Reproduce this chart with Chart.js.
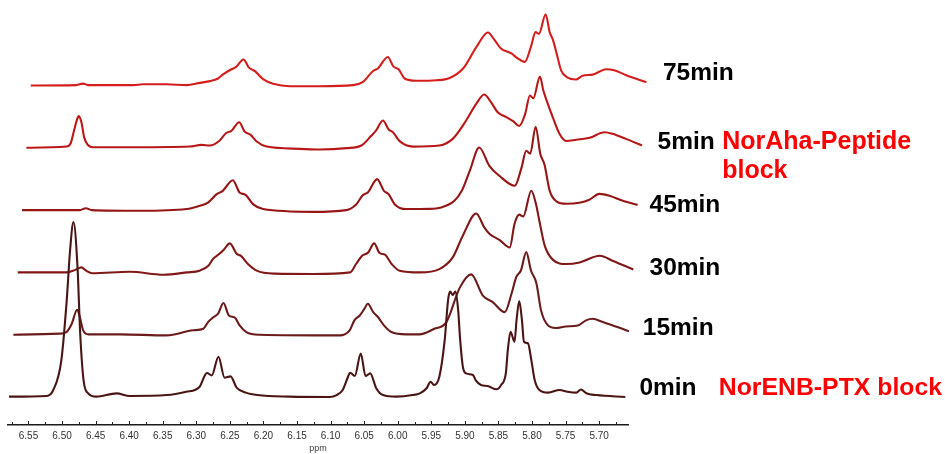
<!DOCTYPE html>
<html>
<head>
<meta charset="utf-8">
<title>NMR stack</title>
<script src="https://cdn.jsdelivr.net/npm/chart.js@4"></script>
<style>
  html, body { margin: 0; padding: 0; background: #fff; }
  #wrap { width: 945px; height: 454px; }
</style>
</head>
<body>
<div id="wrap"><canvas id="nmr" width="945" height="454"></canvas></div>
<script>
// stacked 1H NMR spectra, listed bottom to top
const traceNames = ['0min', '15min', '30min', '45min', '5min', '75min'];
const traceColors = ['#4a1515', '#6a1c1c', '#801818', '#961515', '#b81818', '#d41e1e'];
const tickLabels = ['6.55', '6.50', '6.45', '6.40', '6.35', '6.30', '6.25', '6.20', '6.15',
  '6.10', '6.05', '6.00', '5.95', '5.90', '5.85', '5.80', '5.75', '5.70'];

// chemical shift (ppm) / relative intensity per trace
const ppm0min = [6.579, 6.523, 6.513, 6.501, 6.493, 6.488, 6.483, 6.477, 6.473, 6.468, 6.461, 6.449,
  6.419, 6.399, 6.344, 6.315, 6.295, 6.287, 6.284, 6.277, 6.267, 6.258, 6.249, 6.240, 6.226, 6.209,
  6.161, 6.101, 6.091, 6.082, 6.074, 6.071, 6.064, 6.055, 6.048, 6.041, 6.032, 6.022, 6.002, 5.978,
  5.967, 5.957, 5.951, 5.946, 5.938, 5.930, 5.925, 5.922, 5.918, 5.914, 5.910, 5.907, 5.903, 5.898,
  5.888, 5.884, 5.876, 5.866, 5.853, 5.846, 5.839, 5.836, 5.832, 5.826, 5.823, 5.819, 5.815, 5.812,
  5.806, 5.801, 5.796, 5.789, 5.776, 5.759, 5.747, 5.734, 5.727, 5.719, 5.704, 5.661];
const int0min = [0.2, 0.6, 4.0, 21.1, 55.4, 84, 100, 74.5, 36.6, 9.7, 2.1, 0.2,
  2.1, 0.6, 1.1, 3.0, 5.9, 12.6, 13.7, 12.3, 23.0, 11.1, 11.8, 5.4, 2.5, 1.1,
  0.2, 0, 1.1, 4.0, 11.6, 13.9, 12.0, 24.9, 12.0, 13.5, 5.0, 1.1, 0.2, 1.1,
  2.1, 5.0, 8.7, 6.9, 11.6, 32.6, 55.4, 60.2, 58.3, 60.2, 49.7, 32.6, 17.3, 13.5,
  12.6, 9.7, 6.9, 6.3, 4.4, 6.9, 13.5, 26.9, 37.3, 31.6, 44, 54.9, 44, 31.6,
  30.7, 21.1, 9.7, 4.0, 2.5, 4.0, 3.0, 2.5, 4.3, 2.1, 1.1, 0];

const ppm15min = [6.579, 6.510, 6.500, 6.492, 6.484, 6.480, 6.475, 6.467, 6.420, 6.351, 6.311, 6.296,
  6.289, 6.282, 6.274, 6.266, 6.258, 6.249, 6.242, 6.232, 6.212, 6.093, 6.078, 6.071, 6.063, 6.056,
  6.051, 6.043, 6.036, 6.027, 6.016, 5.994, 5.974, 5.952, 5.934, 5.914, 5.897, 5.880, 5.865, 5.847,
  5.837, 5.830, 5.823, 5.815, 5.808, 5.800, 5.793, 5.784, 5.771, 5.756, 5.738, 5.726, 5.716, 5.701,
  5.686, 5.662];
const int15min = [0, 0.6, 1.5, 6.3, 14.3, 10.1, 2.5, 0.2, 0.2, -0.4, 2.5, 3.4,
  7.2, 9.7, 12, 18.1, 11, 9.7, 5.3, 1.5, 0, -0.4, 2.5, 8.2, 11, 14.9,
  17.7, 12.9, 10.1, 5.3, 1.5, 0.2, 0.2, 3.4, 7.2, 26.9, 34.5, 22.5, 18.6, 12.9,
  23.4, 32.9, 36.7, 47.2, 36.7, 29.6, 13.9, 5.9, 3.8, 4.7, 5.3, 8.2, 9.1, 7.2,
  5.3, 2.0];

const ppm30min = [6.579, 6.506, 6.494, 6.484, 6.477, 6.468, 6.412, 6.362, 6.327, 6.308, 6.295, 6.288,
  6.279, 6.272, 6.263, 6.253, 6.246, 6.236, 6.223, 6.196, 6.139, 6.084, 6.075, 6.066, 6.057, 6.048,
  6.040, 6.032, 6.022, 6.010, 5.980, 5.951, 5.931, 5.916, 5.896, 5.884, 5.876, 5.861, 5.846, 5.839,
  5.832, 5.826, 5.814, 5.807, 5.802, 5.794, 5.782, 5.762, 5.742, 5.712, 5.693, 5.662];
const int30min = [0, 0, 1.3, 2.9, 1.0, -0.5, 0.4, -1.3, 0, 1.0, 3.8, 7.7,
  10.5, 13, 16.6, 10.7, 9.3, 4.8, 1.0, -0.7, -0.9, 0, 4.8, 9.5, 11.4, 16.6,
  11.1, 10.1, 4.8, 1.0, 0, 1.9, 8.6, 21, 33.7, 25.7, 21.9, 18.5, 14.3, 27.7,
  33.0, 32.0, 46.7, 39.1, 29.5, 15.3, 7.3, 4.8, 5.7, 9.5, 6.7, 1.7];

const ppm45min = [6.579, 6.493, 6.484, 6.475, 6.403, 6.334, 6.314, 6.302, 6.289, 6.280, 6.265, 6.255,
  6.246, 6.235, 6.220, 6.146, 6.096, 6.081, 6.071, 6.064, 6.050, 6.040, 6.033, 6.024, 6.007, 5.972,
  5.955, 5.935, 5.924, 5.912, 5.898, 5.883, 5.868, 5.845, 5.835, 5.828, 5.822, 5.814, 5.807, 5.801,
  5.793, 5.783, 5.768, 5.749, 5.734, 5.719, 5.704, 5.682, 5.662];
const int45min = [0, 0, 1.1, 0, -0.4, 0.6, 2.5, 4.3, 9.1, 11, 17.1, 10.1,
  8.7, 3.4, 0.6, -1.0, 0, 3.4, 8.7, 10.1, 17.7, 11, 9.1, 3.4, 0.6, 0.7,
  1.5, 5.3, 11, 22.5, 35.8, 25.3, 19.6, 13.9, 24.3, 33.9, 32.3, 47.6, 32, 26.3,
  11, 5.0, 3.6, 4.2, 5.9, 9.3, 8.2, 5.0, 3.0];

const ppm5min = [6.579, 6.519, 6.513, 6.508, 6.504, 6.501, 6.497, 6.493, 6.488, 6.480, 6.420, 6.336,
  6.318, 6.306, 6.291, 6.281, 6.274, 6.262, 6.254, 6.245, 6.236, 6.221, 6.172, 6.142, 6.102, 6.080,
  6.065, 6.058, 6.048, 6.039, 6.033, 6.023, 6.003, 5.964, 5.944, 5.924, 5.909, 5.897, 5.887, 5.877,
  5.864, 5.854, 5.845, 5.836, 5.829, 5.824, 5.814, 5.809, 5.804, 5.795, 5.785, 5.775, 5.760, 5.740,
  5.718, 5.706, 5.686, 5.662];
const int5min = [0, 0.7, 2.6, 9.9, 15.6, 18.1, 14.6, 6.1, 1.9, 0.3, 0.3, 0.7,
  1.7, 1.3, 4.2, 8.6, 9.5, 14.6, 9.3, 7.4, 3.6, 0.7, -0.6, -1.0, -0.2, 1.3,
  7.0, 9.9, 15.6, 10.3, 8.9, 3.8, 0.7, 1.3, 5.1, 15.6, 25.1, 30.5, 26.1, 20.3,
  17.5, 15.2, 12.5, 19.4, 29.9, 28.3, 40.7, 32.7, 27, 17.5, 8, 3.9, 4.6, 5.7,
  8.9, 8, 5.1, 1.3];

const ppm75min = [6.579, 6.511, 6.501, 6.493, 6.426, 6.412, 6.377, 6.347, 6.327, 6.312, 6.300, 6.292,
  6.280, 6.273, 6.262, 6.254, 6.245, 6.233, 6.218, 6.193, 6.149, 6.099, 6.084, 6.069, 6.062, 6.047,
  6.039, 6.031, 6.022, 6.005, 5.975, 5.955, 5.935, 5.915, 5.898, 5.888, 5.879, 5.863, 5.854, 5.843,
  5.834, 5.827, 5.822, 5.812, 5.806, 5.801, 5.795, 5.789, 5.780, 5.767, 5.757, 5.742, 5.722, 5.710,
  5.692, 5.662];
const int75min = [0, 0.2, 1.1, 0.2, 0.2, 0.7, 0.7, 0.2, 1.5, 2.5, 4, 6.5,
  9.3, 10.6, 14.9, 10.2, 8.2, 3.6, 1.0, -0.4, -0.4, 0.2, 2.1, 8.3, 9.7, 16.3,
  10.9, 9.3, 4, 2.7, 3.0, 4.3, 9.7, 22.1, 30.3, 25.9, 21.3, 18.3, 15.6, 13.5,
  22.1, 30.5, 29.5, 40.7, 30.5, 25.9, 17.3, 8.7, 4.7, 3.4, 5.6, 6.2, 9.3, 8.7,
  5.9, 1.9];

const traces = [
  [ppm0min, int0min], [ppm15min, int15min], [ppm30min, int30min],
  [ppm45min, int45min], [ppm5min, int5min], [ppm75min, int75min],
];

// stacking offsets, like the spectrometer software does it
const X_SHIFT = 0.00647;   // ppm per trace
const Y_STEP = 35.6;       // intensity per trace

const FONT = "'Liberation Sans', Arial, sans-serif";

// side labels: offsets from the right edge of the axis and from each baseline
const labelDx = [11.4, 14.8, 21.5, 21.5, 29.5, 34.9];
const labelDy = [-2, 0.5, 2.8, 1.6, 1.6, -5.8];

const stackDecor = {
  id: 'stackDecor',
  afterDraw(chart) {
    const { ctx, chartArea, scales: { x, y } } = chart;
    ctx.save();

    // tick marks stand up from the axis line, one between each label too
    ctx.strokeStyle = '#222';
    ctx.lineWidth = 1;
    const base = chartArea.bottom;
    x.ticks.forEach(t => {
      [t.value, t.value + 0.025, t.value - 0.025].forEach((v, i) => {
        if (v < x.min || v > x.max) return;
        const px = Math.round(x.getPixelForValue(v)) + 0.5;
        ctx.beginPath();
        ctx.moveTo(px, base);
        ctx.lineTo(px, base - (i === 0 ? 4 : 3));
        ctx.stroke();
      });
    });

    // time labels
    ctx.textBaseline = 'alphabetic';
    ctx.textAlign = 'left';
    ctx.font = 'bold 24.5px ' + FONT;
    ctx.fillStyle = '#000';
    const ys = traceNames.map((n, k) => y.getPixelForValue(k * Y_STEP) + labelDy[k]);
    traceNames.forEach((n, k) => {
      ctx.fillText(n, chartArea.right + labelDx[k], ys[k]);
    });

    // block annotations
    ctx.fillStyle = '#ff0000';
    ctx.font = 'bold 25px ' + FONT;
    ctx.fillText('NorAha-Peptide', chartArea.right + 94.2, ys[4]);
    ctx.fillText('block', chartArea.right + 94.2, ys[4] + 28.5);
    ctx.font = 'bold 24.8px ' + FONT;
    ctx.fillText('NorENB-PTX block', chartArea.right + 90.8, ys[0]);
    ctx.restore();
  }
};

new Chart(document.getElementById('nmr'), {
  type: 'line',
  data: {
    datasets: traces.map(([p, v], k) => ({
      label: traceNames[k],
      data: p.map((ppm, i) => ({ x: ppm - k * X_SHIFT, y: v[i] + k * Y_STEP })),
      borderColor: traceColors[k],
      borderWidth: 2.1,
      pointRadius: 0,
      fill: false,
      cubicInterpolationMode: 'monotone',
      clip: false,
    })),
  },
  options: {
    responsive: false,
    animation: false,
    layout: { padding: { left: 8, right: 317, top: 5, bottom: 0 } },
    plugins: { legend: { display: false }, tooltip: { enabled: false } },
    scales: {
      x: {
        type: 'linear',
        reverse: true,
        min: 5.657,
        max: 6.5805,
        afterBuildTicks: s => { s.ticks = tickLabels.map(t => ({ value: parseFloat(t) })); },
        afterFit: s => { s.height = 29; },
        grid: { drawOnChartArea: false, drawTicks: false },
        border: { display: true, color: '#1a1a1a', width: 1.5 },
        ticks: {
          padding: 5, color: '#333', autoSkip: false, maxRotation: 0,
          font: { family: FONT, size: 10 },
          callback: v => Number(v).toFixed(2),
        },
        title: {
          display: true, text: 'ppm', color: '#444',
          font: { family: FONT, size: 9 }, padding: { top: 0, bottom: 0 },
        },
      },
      y: { display: false, min: -16, max: 224 },
    },
  },
  plugins: [stackDecor],
});
</script>
</body>
</html>
